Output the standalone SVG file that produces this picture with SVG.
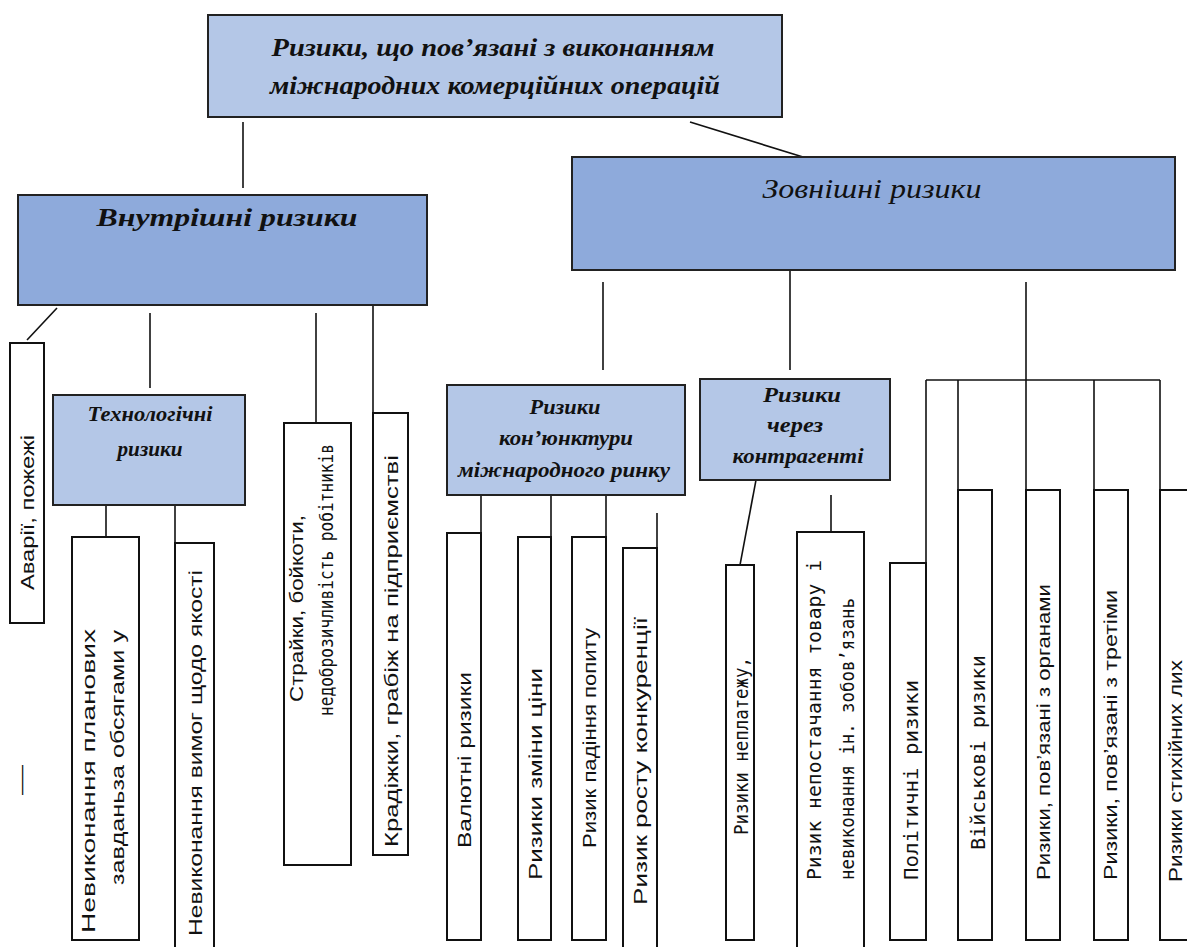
<svg xmlns="http://www.w3.org/2000/svg" width="1187" height="947" viewBox="0 0 1187 947">
<style>
.light{fill:#b4c7e7;stroke:#222;stroke-width:2}
.mid{fill:#8eaadb;stroke:#222;stroke-width:2}
.white{fill:#fff;stroke:#111;stroke-width:2}
.conn line{stroke:#111;stroke-width:1.6}
.h{font-family:"Liberation Serif",serif;font-style:italic;font-weight:bold;fill:#111;text-anchor:middle}
.v{font-family:"Liberation Sans",sans-serif;font-size:18px;fill:#111}
.vm{font-family:"DejaVu Sans Mono","Liberation Mono",monospace;font-size:20px;fill:#111}
</style>
<rect width="1187" height="947" fill="#fff"/>
<g id="connectors" class="conn">
<line x1="243" y1="122" x2="243" y2="188"/>
<line x1="690" y1="122" x2="803" y2="157"/>
<line x1="57" y1="308" x2="27" y2="340"/>
<line x1="150" y1="313" x2="150" y2="388"/>
<line x1="316" y1="313" x2="316" y2="423"/>
<line x1="373" y1="305" x2="373" y2="413"/>
<line x1="106" y1="505" x2="106" y2="537"/>
<line x1="175" y1="505" x2="175" y2="543"/>
<line x1="603" y1="282" x2="603" y2="370"/>
<line x1="790" y1="270" x2="790" y2="370"/>
<line x1="1026" y1="282" x2="1026" y2="490"/>
<line x1="926" y1="380" x2="1160" y2="380"/>
<line x1="926" y1="380" x2="926" y2="563"/>
<line x1="958" y1="380" x2="958" y2="490"/>
<line x1="1094" y1="380" x2="1094" y2="490"/>
<line x1="1160" y1="380" x2="1160" y2="490"/>
<line x1="481" y1="495" x2="481" y2="533"/>
<line x1="551" y1="495" x2="551" y2="537"/>
<line x1="606" y1="495" x2="606" y2="537"/>
<line x1="657" y1="513" x2="657" y2="548"/>
<line x1="756" y1="480" x2="740" y2="565"/>
<line x1="831" y1="495" x2="831" y2="532"/>
</g>
<g id="top"><rect class="light" x="208" y="15" width="574" height="102"/>
<text class="h" x="493" y="56" font-size="26" textLength="443" lengthAdjust="spacingAndGlyphs">Ризики,  що пов’язані  з виконанням</text>
<text class="h" x="495" y="94" font-size="26" textLength="450" lengthAdjust="spacingAndGlyphs">міжнародних  комерційних  операцій</text></g>
<g id="internal"><rect class="mid" x="18" y="195" width="409" height="110"/>
<text class="h" x="227" y="226" font-size="26" textLength="261" lengthAdjust="spacingAndGlyphs">Внутрішні ризики</text></g>
<g id="external"><rect class="mid" x="572" y="157" width="603" height="113"/>
<text class="h" x="872" y="198" font-size="28" textLength="219" lengthAdjust="spacingAndGlyphs" style="font-weight:normal">Зовнішні ризики</text></g>
<g id="tech"><rect class="light" x="53" y="395" width="192" height="110"/>
<text class="h" x="150" y="421" font-size="20" textLength="125" lengthAdjust="spacingAndGlyphs">Технологічні</text>
<text class="h" x="150" y="456" font-size="20" textLength="65" lengthAdjust="spacingAndGlyphs">ризики</text></g>
<g id="market"><rect class="light" x="447" y="385" width="238" height="110"/>
<text class="h" x="565" y="414" font-size="20" textLength="71" lengthAdjust="spacingAndGlyphs">Ризики</text>
<text class="h" x="566" y="445" font-size="20" textLength="134" lengthAdjust="spacingAndGlyphs">кон’юнктури</text>
<text class="h" x="564" y="477" font-size="20" textLength="212" lengthAdjust="spacingAndGlyphs">міжнародного   ринку</text></g>
<g id="counter"><rect class="light" x="700" y="379" width="190" height="101"/>
<text class="h" x="802" y="402" font-size="21" textLength="78" lengthAdjust="spacingAndGlyphs">Ризики</text>
<text class="h" x="795" y="432" font-size="21" textLength="56" lengthAdjust="spacingAndGlyphs">через</text>
<text class="h" x="798" y="463" font-size="21" textLength="131" lengthAdjust="spacingAndGlyphs">контрагенті</text></g>
<g id="avarii"><rect class="white" x="10" y="343" width="34" height="280"/>
<text class="v" transform="translate(34,590) rotate(-90)" textLength="155" lengthAdjust="spacingAndGlyphs">Аварії, пожежі</text></g>
<text class="v" transform="translate(27,795) rotate(-90)" textLength="30" lengthAdjust="spacingAndGlyphs">—</text>
<g id="plan"><rect class="white" x="72" y="537" width="67" height="403"/>
<text class="v" transform="translate(95,933) rotate(-90)" textLength="304" lengthAdjust="spacingAndGlyphs">Невиконання планових</text>
<text class="v" transform="translate(124,885) rotate(-90)" textLength="255" lengthAdjust="spacingAndGlyphs">завданьза обсягами у</text></g>
<g id="quality"><rect class="white" x="175" y="543" width="39" height="410"/>
<text class="v" transform="translate(202,936) rotate(-90)" textLength="366" lengthAdjust="spacingAndGlyphs">Невиконання вимог щодо якості</text></g>
<g id="strikes"><rect class="white" x="284" y="423" width="67" height="442"/>
<text class="v" transform="translate(303,702) rotate(-90)" textLength="187" lengthAdjust="spacingAndGlyphs">Страйки, бойкоти,</text>
<text class="vm" transform="translate(333,716) rotate(-90)" textLength="272" lengthAdjust="spacingAndGlyphs">недоброзичливість робітників</text></g>
<g id="theft"><rect class="white" x="373" y="413" width="35" height="442"/>
<text class="v" transform="translate(398,847) rotate(-90)" textLength="392" lengthAdjust="spacingAndGlyphs">Крадіжки,  грабіж  на  підприємстві</text></g>
<g id="currency"><rect class="white" x="447" y="533" width="34" height="407"/>
<text class="v" transform="translate(471,848) rotate(-90)" textLength="176" lengthAdjust="spacingAndGlyphs">Валютні ризики</text></g>
<g id="price"><rect class="white" x="518" y="537" width="33" height="403"/>
<text class="v" transform="translate(542,880) rotate(-90)" textLength="212" lengthAdjust="spacingAndGlyphs">Ризики зміни ціни</text></g>
<g id="demand"><rect class="white" x="572" y="537" width="34" height="403"/>
<text class="v" transform="translate(596,848) rotate(-90)" textLength="220" lengthAdjust="spacingAndGlyphs">Ризик падіння попиту</text></g>
<g id="competition"><rect class="white" x="623" y="548" width="34" height="410"/>
<text class="v" transform="translate(647,905) rotate(-90)" textLength="288" lengthAdjust="spacingAndGlyphs">Ризик росту конкуренції</text></g>
<g id="nonpay"><rect class="white" x="726" y="565" width="28" height="375"/>
<text class="vm" transform="translate(748,835) rotate(-90)" textLength="178" lengthAdjust="spacingAndGlyphs">Ризики неплатежу,</text></g>
<g id="nondelivery"><rect class="white" x="797" y="532" width="67" height="420"/>
<text class="vm" transform="translate(821,880) rotate(-90)" textLength="320" lengthAdjust="spacingAndGlyphs">Ризик непостачання  товару і</text>
<text class="vm" transform="translate(854,880) rotate(-90)" font-size="18" textLength="282" lengthAdjust="spacingAndGlyphs">невиконання ін. зобов’язань</text></g>
<g id="political"><rect class="white" x="890" y="563" width="36" height="377"/>
<text class="vm" transform="translate(918,880) rotate(-90)" textLength="200" lengthAdjust="spacingAndGlyphs">Політичні ризики</text></g>
<g id="military"><rect class="white" x="958" y="490" width="34" height="450"/>
<text class="vm" transform="translate(985,850) rotate(-90)" textLength="195" lengthAdjust="spacingAndGlyphs">Військові ризики</text></g>
<g id="organs"><rect class="white" x="1026" y="490" width="34" height="450"/>
<text class="v" transform="translate(1050,880) rotate(-90)" textLength="296" lengthAdjust="spacingAndGlyphs">Ризики, пов’язані з органами</text></g>
<g id="third"><rect class="white" x="1094" y="490" width="34" height="450"/>
<text class="v" transform="translate(1117,880) rotate(-90)" textLength="290" lengthAdjust="spacingAndGlyphs">Ризики, пов’язані з третіми</text></g>
<g id="disaster"><rect class="white" x="1160" y="490" width="40" height="450"/>
<text class="v" transform="translate(1182,882) rotate(-90)" textLength="222" lengthAdjust="spacingAndGlyphs">Ризики стихійних лих</text></g>
</svg>
